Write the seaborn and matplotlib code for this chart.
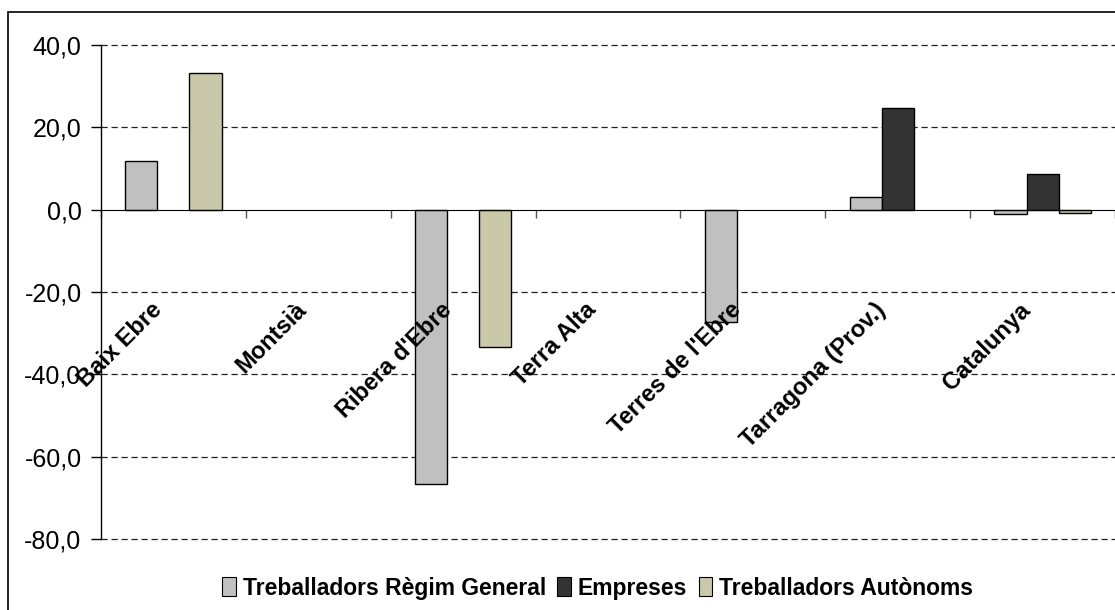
import seaborn as sns
import matplotlib.pyplot as plt
import pandas as pd
from matplotlib.patches import Rectangle
from matplotlib.ticker import FuncFormatter

#categories and series
comarques = ["Baix Ebre", "Montsià", "Ribera d'Ebre", "Terra Alta",
             "Terres de l'Ebre", "Tarragona (Prov.)", "Catalunya"]
series = ["Treballadors Règim General", "Empreses", "Treballadors Autònoms"]
regim_general = [11.8, 0.0, -66.7, 0.0, -27.3, 3.0, -1.0]
empreses = [0.0, 0.0, 0.0, 0.0, 0.0, 24.8, 8.7]
autonoms = [33.3, 0.0, -33.3, 0.0, 0.0, 0.0, -0.9]
yticks = [-80, -60, -40, -20, 0, 20, 40]

colors = ["#c0c0c0", "#333333", "#c9c9a9"]

df = pd.DataFrame({
    "comarca": comarques * 3,
    "serie": [series[0]] * 7 + [series[1]] * 7 + [series[2]] * 7,
    "valor": regim_general + empreses + autonoms,
})

plt.rcParams['font.family'] = ['Liberation Sans', 'DejaVu Sans']

fig = plt.figure(figsize=(11.15, 6.10), dpi=100)
ax = fig.add_axes([101 / 1115, 1 - 539 / 610, 1 - 101 / 1115, 494 / 610])

sns.barplot(data=df, x="comarca", y="valor", hue="serie", order=comarques,
            hue_order=series, palette=colors, width=0.665, gap=0,
            edgecolor="black", linewidth=1, saturation=1, ax=ax, legend=False)

#zero values are not drawn in the original
for p in ax.patches:
    if p.get_height() == 0:
        p.set_visible(False)

ax.set_xlim(-0.5, len(comarques) - 0.5)
ax.set_ylim(-80, 40)
ax.set_yticks(yticks)
ax.yaxis.set_major_formatter(FuncFormatter(lambda v, p: f"{v:.1f}".replace(".", ",")))
ax.tick_params(axis="y", labelsize=18, length=7, width=1, direction="out", pad=7)

#grid
for v in yticks:
    if v != 0:
        ax.axhline(v, color="#222222", lw=0.9, dashes=(5, 3), zorder=0, clip_on=False)

for s in ["top", "right"]:
    ax.spines[s].set_visible(False)
ax.spines["bottom"].set_position(("data", 0))
ax.spines["bottom"].set_zorder(5)
ax.spines["left"].set_linewidth(1)
ax.set_xticks([i - 0.5 for i in range(len(comarques) + 1)])
ax.set_xticklabels([])
ax.tick_params(axis="x", length=6, width=1, direction="out", color="#555555")
ax.set_xlabel("")
ax.set_ylabel("")

#category labels inside plot
for i, nom in enumerate(comarques):
    ax.text(i - 0.05, -21.5, nom, rotation=45, ha="right", va="top",
            fontsize=17, fontweight="bold", zorder=6)

#legend
handles = [Rectangle((0, 0), 1, 1, facecolor=c, edgecolor="black", lw=0.8) for c in colors]
fig.legend(handles, series, loc="center", bbox_to_anchor=(0.536, 0.036), ncol=3,
           frameon=False, prop={"size": 16.5, "weight": "bold"}, handlelength=0.6,
           handleheight=0.9, handletextpad=0.3, columnspacing=0.5)

#chart frame
fig.add_artist(Rectangle((8 / 1115, -0.1), 1.2, 1.1 - 12 / 610, transform=fig.transFigure,
                         fill=False, edgecolor="black", lw=1.2, clip_on=False))

fig.savefig("out.png", dpi=100)
